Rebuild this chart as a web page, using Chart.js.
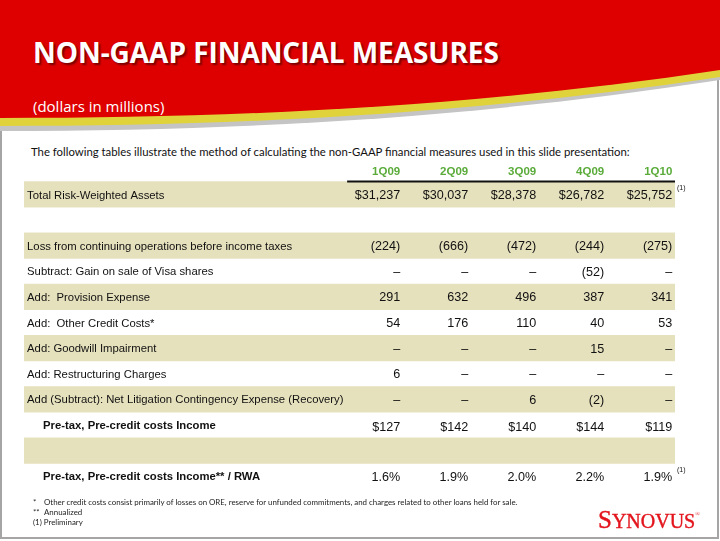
<!DOCTYPE html>
<html>
<head>
<meta charset="utf-8">
<script src="https://cdn.jsdelivr.net/npm/chart.js@4.4.1/dist/chart.umd.min.js"></script>
<style>
  html, body { margin: 0; padding: 0; background: #fff; }
  #slide { position: relative; width: 720px; height: 541px; overflow: hidden; background: #fff; }
  #frame { position: absolute; left: 0; top: 0; width: 715px; height: 537px;
           border: 2px solid #a5a5a5; border-top: none; }
  #banner { position: absolute; left: 0; top: 0; }
  .title { position: absolute; left: 33px; top: 38px; margin: 0; font: bold 28px "Open Sans", sans-serif;
           line-height: 28px; color: #fff; letter-spacing: -0.05px; text-shadow: 2px 2px 2px rgba(0,0,0,0.45); }
  .subtitle { position: absolute; left: 33px; top: 96px; font: 15px "Open Sans", sans-serif; color: #fff; line-height: 20px; }
  .intro { position: absolute; left: 31px; top: 144px; font: 11.35px Lato, sans-serif; color: #111; line-height: 16px; white-space: nowrap; }
  .notes { position: absolute; left: 33px; top: 497px; font: 7.9px Lato, sans-serif; color: #222; line-height: 10px; }
  .notes span { display: inline-block; width: 11px; }
  .logo { position: absolute; left: 598px; top: 502px; font: 20px "Liberation Serif", serif; color: #e3141c; line-height: 24px;
          white-space: nowrap; -webkit-text-stroke: 0.4px #e3141c; }
  .logo b { font-weight: normal; font-size: 25px; }
  .logo sup { font-size: 6px; vertical-align: 12px; -webkit-text-stroke: 0; }
  #table { position: absolute; left: 0; top: 0; }
</style>
</head>
<body>
<div id="slide">
  <div id="frame"></div>
  <svg id="banner" width="720" height="140" viewBox="0 0 720 140">
    <path d="M0,0 H720 V80 C480,117 250,131 0,131 Z" fill="#c4c4c4"/>
    <path d="M0,0 H720 V77 C480,113 250,126 0,126 Z" fill="#e0d23a"/>
    <path d="M0,0 H720 V70 C480,106 250,118 0,118 Z" fill="#de0000"/>
  </svg>
  <h1 class="title">NON-GAAP FINANCIAL MEASURES</h1>
  <div class="subtitle">(dollars in millions)</div>
  <div class="intro">The following tables illustrate the method of calculating the non-GAAP financial measures used in this slide presentation:</div>
  <canvas id="table" width="720" height="541"></canvas>
  <div class="notes">
    <div><span>*</span>Other credit costs consist primarily of losses on ORE, reserve for unfunded commitments, and charges related to other loans held for sale.</div>
    <div><span>**</span>Annualized</div>
    <div>(1) Preliminary</div>
  </div>
  <div class="logo"><b>S</b>YNOVUS<sup>®</sup></div>
</div>

<script>
// Table data
const quarters = ["1Q09", "2Q09", "3Q09", "4Q09", "1Q10"]
const rowLabels = [
  "Total Risk-Weighted Assets",
  "",
  "Loss from continuing operations before income taxes",
  "Subtract: Gain on sale of Visa shares",
  "Add:  Provision Expense",
  "Add:  Other Credit Costs*",
  "Add: Goodwill Impairment",
  "Add: Restructuring Charges",
  "Add (Subtract): Net Litigation Contingency Expense (Recovery)",
  "Pre-tax, Pre-credit costs Income",
  "",
  "Pre-tax, Pre-credit costs Income** / RWA",
]
const riskWeightedAssets = [31237, 30037, 28378, 26782, 25752]
const lossBeforeTaxes = [-224, -666, -472, -244, -275]
const visaGain = [null, null, null, -52, null]
const provisionExpense = [291, 632, 496, 387, 341]
const otherCreditCosts = [54, 176, 110, 40, 53]
const goodwillImpairment = [null, null, null, 15, null]
const restructuringCharges = [6, null, null, null, null]
const litigationExpense = [null, null, 6, -2, null]
const preTaxIncome = [127, 142, 140, 144, 119]
const incomeToRwa = [1.6, 1.9, 2.0, 2.2, 1.9]

function money(v) {
  return "$" + v.toLocaleString("en-US")
}
function plain(v) {
  if (v === null) return "\u2013"
  return v < 0 ? "(" + Math.abs(v) + ")" : String(v)
}
function pct(v) {
  return v.toFixed(1) + "%"
}

// one entry per table row (after the header row)
const rows = [
  { values: riskWeightedAssets, fmt: money, note: true },
  { values: null },
  { values: lossBeforeTaxes, fmt: plain },
  { values: visaGain, fmt: plain },
  { values: provisionExpense, fmt: plain },
  { values: otherCreditCosts, fmt: plain },
  { values: goodwillImpairment, fmt: plain },
  { values: restructuringCharges, fmt: plain },
  { values: litigationExpense, fmt: plain },
  { values: preTaxIncome, fmt: money, bold: true },
  { values: null },
  { values: incomeToRwa, fmt: pct, bold: true, note: true },
]

// x axis runs in column units: column i has its right edge at value i
const xMin = -5.53
const xMax = 4.04
const allRows = ["header"].concat(rowLabels.map((l, i) => "r" + i))
const stripes = allRows.map((_, i) => (i % 2 === 1 ? [xMin, xMax] : null))

const tableText = {
  id: "tableText",
  afterDatasetsDraw(chart) {
    const ctx = chart.ctx
    const x = chart.scales.x
    const y = chart.scales.y
    const band = y.getPixelForValue(1) - y.getPixelForValue(0)
    ctx.save()
    ctx.textBaseline = "middle"

    // header
    const hy = y.getPixelForValue(0) + 3
    ctx.fillStyle = "#5aab3a"
    ctx.font = "bold 11.5px 'Liberation Sans', Arial, sans-serif"
    ctx.textAlign = "right"
    quarters.forEach((q, c) => ctx.fillText(q, x.getPixelForValue(c), hy))

    const lineY = y.getPixelForValue(0) + band / 2
    ctx.strokeStyle = "#111"
    ctx.lineWidth = 2
    ctx.beginPath()
    ctx.moveTo(x.getPixelForValue(-0.78), lineY)
    ctx.lineTo(x.right, lineY)
    ctx.stroke()

    rows.forEach((row, r) => {
      const cy = y.getPixelForValue(r + 1) + 1
      const label = rowLabels[r]
      ctx.fillStyle = "#111"
      if (label) {
        ctx.textAlign = "left"
        ctx.font = (row.bold ? "bold " : "") + "11.3px 'Liberation Sans', Arial, sans-serif"
        ctx.fillText(label, x.getPixelForValue(row.bold ? -5.25 : -5.485), cy)
      }
      if (!row.values) return
      ctx.textAlign = "right"
      ctx.font = "12.6px 'Liberation Sans', Arial, sans-serif"
      row.values.forEach((v, c) => {
        ctx.fillText(row.fmt(v), x.getPixelForValue(c), cy + (row.bold && row.fmt === money ? 2 : 0))
      })
      if (row.note) {
        ctx.textAlign = "left"
        ctx.font = "7px 'Liberation Sans', Arial, sans-serif"
        ctx.fillText("(1)", x.getPixelForValue(4.07), cy - 7)
      }
    })
    ctx.restore()
  },
}

new Chart(document.getElementById("table"), {
  type: "bar",
  data: {
    labels: allRows,
    datasets: [
      {
        data: stripes,
        backgroundColor: "#e6e1bd",
        borderWidth: 0,
        barPercentage: 1,
        categoryPercentage: 1,
      },
    ],
  },
  options: {
    indexAxis: "y",
    responsive: false,
    animation: false,
    layout: { padding: { left: 24, right: 45, top: 156, bottom: 52 } },
    plugins: { legend: { display: false }, tooltip: { enabled: false } },
    scales: {
      x: { type: "linear", min: xMin, max: xMax, display: false },
      y: { type: "category", display: false },
    },
  },
  plugins: [tableText],
})
</script>
</body>
</html>
